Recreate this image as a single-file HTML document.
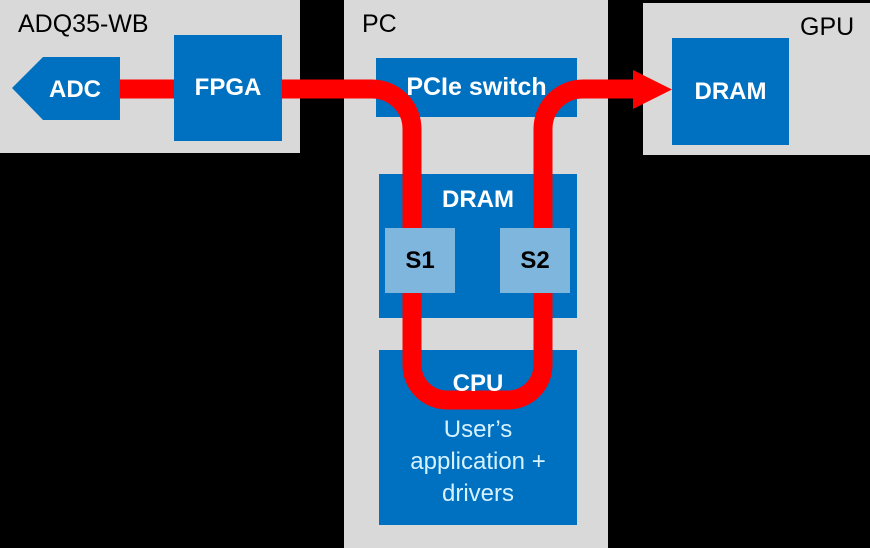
<!DOCTYPE html>
<html><head><style>
body{margin:0;background:#000;width:870px;height:548px;overflow:hidden;position:relative;font-family:"Liberation Sans",sans-serif}
.a{position:absolute}
.g{background:#d9d9d9}
.b{background:#0070c0;color:#fff;font-weight:bold;font-size:24px;display:flex;align-items:center;justify-content:center}
.s{background:#7eb6de;color:#000;font-weight:bold;font-size:24px;display:flex;align-items:center;justify-content:center}
.t{font-size:25px;color:#000}
.w{color:#fff;font-weight:bold;font-size:24px;text-align:center}
</style></head><body>
<div class="a g" style="left:0;top:0;width:300px;height:153px"></div>
<div class="a g" style="left:344px;top:0;width:264px;height:548px"></div>
<div class="a g" style="left:643px;top:3px;width:227px;height:152px"></div>
<div class="a t" style="left:18px;top:10px">ADQ35-WB</div>
<div class="a t" style="left:362px;top:10px">PC</div>
<div class="a t" style="left:800px;top:13px">GPU</div>
<div class="a b" style="left:174px;top:35px;width:108px;height:106px">FPGA</div>
<div class="a b" style="left:376px;top:58px;width:201px;height:59px;font-size:25px">PCIe switch</div>
<div class="a b" style="left:672px;top:38px;width:117px;height:107px">DRAM</div>
<div class="a b" style="left:379px;top:174px;width:198px;height:144px;align-items:flex-start;padding-top:12px;box-sizing:border-box">DRAM</div>
<div class="a b" style="left:379px;top:350px;width:198px;height:175px"></div>
<div class="a" style="left:379px;top:414px;width:198px;text-align:center;color:#d4f2ff;font-size:24px;line-height:32px">User’s<br>application +<br>drivers</div>
<svg class="a" style="left:0;top:0" width="870" height="548">
<polygon points="12,88 43,57 120,57 120,120 43,120" fill="#0070c0"/>
<text x="75" y="97" fill="#fff" font-size="24" font-weight="bold" text-anchor="middle" font-family="Liberation Sans">ADC</text>
<g fill="none" stroke="#f00" stroke-width="19">
<path d="M120,89 H174"/>
<path d="M282,89 H372 A40,40 0 0 1 412,129 V230"/>
<path d="M543,230 V129 A40,40 0 0 1 583,89 H636"/>
<path d="M412,292 V365 A35,35 0 0 0 447,400 H508 A35,35 0 0 0 543,365 V292"/>
</g>
<polygon points="633,70 672,89.5 633,109" fill="#f00"/>
<text x="478" y="391" fill="#fff" font-size="24" font-weight="bold" text-anchor="middle" font-family="Liberation Sans">CPU</text>
</svg>
<div class="a s" style="left:385px;top:228px;width:70px;height:65px">S1</div>
<div class="a s" style="left:500px;top:228px;width:70px;height:65px">S2</div>
</body></html>
